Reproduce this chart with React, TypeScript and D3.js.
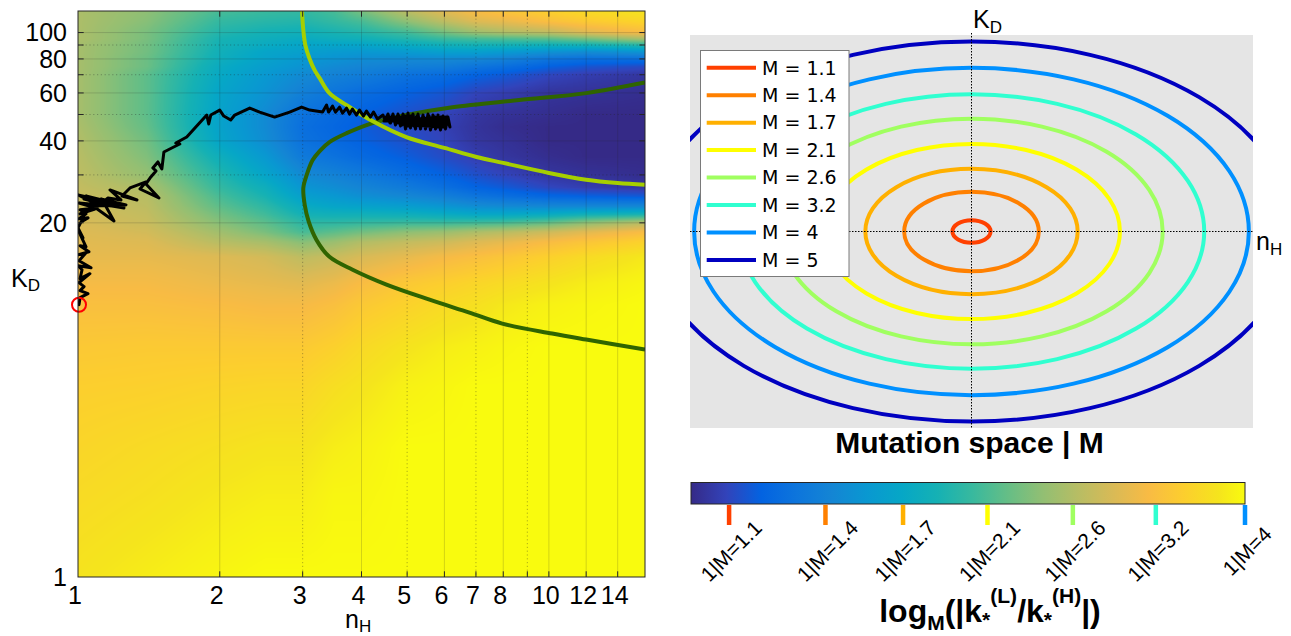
import React, { useMemo } from "react";
import * as d3 from "d3";

// ---------------- data ----------------
const nHTickLabels = [1, 2, 3, 4, 5, 6, 7, 8, 10, 12, 14];
const nHTickMarks = [2, 3, 4, 5, 6, 7, 8, 9, 10, 12, 14];
const nHGridMajor = [2, 4, 6, 8, 10, 12, 14];
const nHGridMinor = [3, 5, 7, 9];
const kdTickLabels = [1, 20, 40, 60, 80, 100];
const kdTickMarks = [20, 30, 40, 50, 60, 70, 80, 90, 100];
const kdGridMajor = [20, 40, 60, 80, 100];
const kdGridMinor = [30, 50, 70, 90];

// heat field (colour level 0..1 of log_M ratio) sampled on an nH x KD grid
const heatNH = [1, 1.4, 2, 2.5, 3, 3.5, 4, 5, 6, 7, 8, 10, 12, 16];
const heatKD = [120, 110, 100, 95, 90, 85, 80, 75, 70, 60, 50, 45, 40, 35, 30, 27, 25, 23, 21.5, 20, 18.5, 17, 15, 12, 10, 7, 5, 3, 2, 1];
const heatLevel = [
  [0.68, 0.63, 0.53, 0.51, 0.5, 0.53, 0.6, 0.71, 0.78, 0.83, 0.86, 0.895, 0.925, 0.95],
  [0.68, 0.62, 0.5, 0.48, 0.47, 0.5, 0.53, 0.63, 0.71, 0.77, 0.79, 0.84, 0.875, 0.91],
  [0.68, 0.6, 0.47, 0.44, 0.43, 0.45, 0.47, 0.52, 0.59, 0.65, 0.68, 0.71, 0.77, 0.83],
  [0.68, 0.6, 0.45, 0.42, 0.4, 0.42, 0.43, 0.47, 0.51, 0.53, 0.54, 0.56, 0.6, 0.68],
  [0.67, 0.59, 0.44, 0.4, 0.37, 0.37, 0.37, 0.4, 0.43, 0.44, 0.44, 0.43, 0.44, 0.48],
  [0.67, 0.59, 0.43, 0.37, 0.35, 0.33, 0.32, 0.33, 0.35, 0.35, 0.33, 0.3, 0.28, 0.31],
  [0.67, 0.58, 0.42, 0.36, 0.32, 0.3, 0.28, 0.27, 0.27, 0.26, 0.24, 0.19, 0.17, 0.17],
  [0.67, 0.58, 0.4, 0.34, 0.3, 0.27, 0.25, 0.23, 0.22, 0.19, 0.17, 0.125, 0.1, 0.08],
  [0.67, 0.56, 0.39, 0.32, 0.27, 0.24, 0.22, 0.18, 0.16, 0.13, 0.11, 0.07, 0.05, 0.03],
  [0.67, 0.56, 0.37, 0.3, 0.23, 0.19, 0.16, 0.125, 0.1, 0.065, 0.05, 0.025, 0.02, 0.01],
  [0.67, 0.56, 0.36, 0.27, 0.18, 0.15, 0.125, 0.09, 0.065, 0.03, 0.02, 0.01, 0, 0],
  [0.68, 0.57, 0.36, 0.27, 0.17, 0.14, 0.115, 0.08, 0.055, 0.025, 0.01, 0, 0, 0],
  [0.69, 0.59, 0.37, 0.28, 0.18, 0.15, 0.125, 0.09, 0.065, 0.03, 0.02, 0, 0, 0],
  [0.7, 0.61, 0.42, 0.32, 0.21, 0.18, 0.15, 0.115, 0.08, 0.05, 0.03, 0.01, 0, 0],
  [0.71, 0.64, 0.47, 0.37, 0.27, 0.24, 0.21, 0.16, 0.125, 0.09, 0.065, 0.03, 0.02, 0.01],
  [0.72, 0.68, 0.5, 0.42, 0.31, 0.28, 0.25, 0.21, 0.17, 0.13, 0.11, 0.07, 0.05, 0.03],
  [0.73, 0.7, 0.53, 0.45, 0.35, 0.32, 0.29, 0.26, 0.23, 0.19, 0.17, 0.14, 0.125, 0.11],
  [0.74, 0.71, 0.56, 0.49, 0.4, 0.37, 0.36, 0.34, 0.31, 0.28, 0.27, 0.26, 0.26, 0.26],
  [0.75, 0.72, 0.59, 0.52, 0.44, 0.43, 0.43, 0.42, 0.4, 0.38, 0.38, 0.4, 0.43, 0.45],
  [0.76, 0.73, 0.62, 0.56, 0.49, 0.49, 0.5, 0.51, 0.51, 0.52, 0.53, 0.57, 0.63, 0.7],
  [0.77, 0.75, 0.66, 0.6, 0.53, 0.56, 0.59, 0.63, 0.65, 0.68, 0.7, 0.74, 0.78, 0.83],
  [0.78, 0.77, 0.7, 0.67, 0.62, 0.65, 0.69, 0.72, 0.74, 0.77, 0.79, 0.83, 0.86, 0.9],
  [0.79, 0.79, 0.77, 0.75, 0.71, 0.73, 0.76, 0.79, 0.82, 0.84, 0.86, 0.895, 0.925, 0.96],
  [0.82, 0.82, 0.8, 0.79, 0.78, 0.8, 0.83, 0.87, 0.89, 0.91, 0.925, 0.95, 0.97, 0.99],
  [0.84, 0.84, 0.83, 0.82, 0.82, 0.84, 0.87, 0.9, 0.925, 0.94, 0.96, 0.98, 0.99, 1],
  [0.87, 0.875, 0.875, 0.875, 0.875, 0.895, 0.92, 0.95, 0.97, 0.98, 0.99, 1, 1, 1],
  [0.89, 0.895, 0.905, 0.91, 0.91, 0.935, 0.95, 0.98, 0.99, 1, 1, 1, 1, 1],
  [0.91, 0.925, 0.94, 0.95, 0.95, 0.97, 0.98, 1, 1, 1, 1, 1, 1, 1],
  [0.925, 0.94, 0.96, 0.97, 0.97, 0.99, 0.99, 1, 1, 1, 1, 1, 1, 1],
  [0.95, 0.97, 0.99, 1, 1, 1, 1, 1, 1, 1, 1, 1, 1, 1],
];

// evolutionary trajectory (nH, KD)
const trajNH = [
  1.005, 1.01, 1.05, 1.01, 1.03, 1.005, 1.06, 1.01, 1.02, 1.0, 1.066, 1.005, 1.04, 1.0, 1.055, 1.01, 1.04, 1.005, 1.025, 1.0, 1.015, 1.05, 1.005, 1.04, 1.01,
  1.0919, 1.0049, 1.1808, 1.0298, 1.2522, 1.0813, 1.0, 1.1413, 1.0399, 1.216, 1.1191, 1.2645, 1.0761, 1.1925, 1.1357, 1.0098, 1.0866, 1.158, 1.234, 1.1694, 1.3343, 1.24, 1.2895, 1.3943, 1.354, 1.4859, 1.3943,
  1.428, 1.464, 1.442, 1.478, 1.507, 1.522, 1.597, 1.645, 1.613, 1.702, 1.787, 1.877, 1.895, 1.914, 2.0, 2.04, 2.11, 2.152, 2.316, 2.431, 2.616, 2.815, 2.985, 3.104, 3.307, 3.372, 3.405, 3.472, 3.523, 3.593, 3.646, 3.718, 3.773, 3.828, 3.904, 3.961, 4.039, 4.099, 4.18, 4.242, 4.325,
  4.443, 4.498, 4.553, 4.609, 4.666, 4.723, 4.781, 4.84, 4.9, 4.96, 5.021, 5.083, 5.145, 5.209, 5.273, 5.338, 5.403, 5.47, 5.537, 5.605, 5.674, 5.744, 5.814, 5.886, 5.958, 6.031, 6.105, 6.165, 6.076, 6.136,
  6.076, 5.987, 5.9, 5.814, 5.73, 5.646, 5.564, 5.483, 5.403, 5.325, 5.247, 5.17, 5.095, 5.021, 4.948, 4.876, 4.805, 4.735, 4.666, 4.598, 4.531, 4.465,
  5.4, 6.14, 4.72, 6.1, 4.8, 6.05, 4.9, 6.12, 4.62, 6.0, 5.1, 6.08,
];
const trajKD = [
  10.01, 10.62, 10.99, 11.27, 11.66, 12.06, 13.01, 12.47, 13.45, 13.91, 13.68, 14.51, 15.53, 15.27, 15.66, 16.48, 16.33, 18.54, 17.62, 19.17, 20.17, 20.86, 20.69, 21.58, 22.32,
  22.68, 23.66, 23.07, 24.47, 22.68, 23.66, 25.32, 24.06, 25.1, 23.46, 24.47, 23.26, 23.07, 20.32, 23.66, 21.56, 22.49, 24.68, 24.27, 26.41, 24.27, 25.1, 26.86, 28.26, 26.63, 24.68, 27.79,
  29.49, 31.02, 31.81, 33.47, 31.55, 36.41, 37.98, 38.95, 39.28, 41.32, 45.36, 49.77, 46.13, 49.77, 51.91, 49.35, 47.71, 49.77, 52.79, 51.04, 48.93, 51.04, 53.24, 51.91, 51.04, 54.14, 51.04, 53.69, 51.04, 53.24, 50.61, 52.79, 50.18, 52.35, 49.77, 51.91, 49.35, 51.47, 48.93, 51.04, 48.11,
  49.8, 47.34, 50.22, 46.54, 50.22, 45.77, 50.22, 45.38, 50.22, 44.24, 50.65, 44.61, 50.22, 44.24, 50.22, 44.24, 49.8, 44.24, 50.22, 43.87, 49.8, 44.24, 49.8, 43.87, 49.38, 44.24, 48.96, 44.99, 47.74, 46.15,
  48.55, 45.38, 48.96, 44.99, 48.96, 44.99, 49.38, 44.99, 49.38, 44.99, 49.38, 45.38, 49.38, 45.38, 49.38, 45.77, 49.38, 46.15, 49.38, 46.54, 49.38, 47.34,
  47.74, 46.54, 47.74, 48.96, 46.54, 45.38, 48.55, 47.74, 48.96, 44.99, 45.77, 46.9,
];
const startNH = 1;
const startKD = 10;

// contour curves
const limeNH = [2.99, 3.01, 3.04, 3.1, 3.18, 3.26, 3.42, 3.72, 4.22, 4.98, 6.0, 7.02, 8.0, 10.0, 12.0, 14.0, 16.0];
const limeKD = [120, 101.9, 89.8, 80.5, 72.8, 68.0, 59.9, 54.1, 47.3, 41.3, 37.7, 34.9, 33.2, 30.5, 28.8, 28.0, 27.6];
const greenNH = [16, 12.0, 8.65, 6.24, 4.98, 4.22, 3.72, 3.42, 3.26, 3.15, 3.06, 3.01, 3.03, 3.09, 3.21, 3.42, 3.83, 4.52, 5.58, 6.78, 7.96, 10.16, 12.0, 16];
const greenKD = [65.5, 59.9, 56.5, 53.2, 49.8, 46.5, 42.7, 39.6, 36.7, 34.0, 30.0, 26.9, 23.3, 20.2, 17.3, 15.0, 13.45, 11.86, 10.44, 9.36, 8.53, 7.84, 7.45, 6.85];

// mutation space
const mutationM = [1.1, 1.4, 1.7, 2.1, 2.6, 3.2, 4, 5];
const mutationColors = ["#ff4000", "#ff8000", "#ffb000", "#ffff00", "#a0ff60", "#30ffd0", "#0090ff", "#0000c0"];
const colorbarM = [1.1, 1.4, 1.7, 2.1, 2.6, 3.2, 4];

// parula colormap anchors
const parulaHex = ["#352a87", "#3243ba", "#0363e1", "#0d75dc", "#1485d4", "#0998d1", "#06a7c6", "#15b1b4", "#38b99e", "#65be86", "#92bf73", "#b7bd64", "#d9ba56", "#f8bb44", "#fcce2e", "#f5e41d", "#f9fb0e"];
const parulaPos = [0, 4, 8, 12, 16, 20, 24, 28, 32, 36, 40, 44, 48, 52, 56, 60, 63].map((i) => i / 63);

const ARIAL = "'Liberation Sans', Arial, Helvetica, sans-serif";
const DEJAVU = "'DejaVu Sans', sans-serif";

const parula = d3
  .scaleLinear<string>()
  .domain(parulaPos)
  .range(parulaHex)
  .interpolate(d3.interpolateRgb)
  .clamp(true);

function buildHeatmap(x: any, y: any, x0: number, y0: number, w: number, h: number) {
  const c = document.createElement("canvas");
  c.width = w;
  c.height = h;
  const ctx = c.getContext("2d");
  if (!ctx) return "";
  const img = ctx.createImageData(w, h);
  const colPx = heatNH.map((v) => x(v));
  const rowPx = heatKD.map((v) => y(v));
  const lut = d3.range(512).map((i) => d3.rgb(parula(i / 511)));
  const seg = (arr: number[], p: number): [number, number] => {
    let i = 0;
    while (i < arr.length - 2 && p > arr[i + 1]) i++;
    const t = Math.max(0, Math.min(1, (p - arr[i]) / (arr[i + 1] - arr[i])));
    return [i, t];
  };
  const xs = d3.range(w).map((px) => seg(colPx, x0 + px + 0.5));
  for (let py = 0; py < h; py++) {
    const [j, ty] = seg(rowPx, y0 + py + 0.5);
    const r0 = heatLevel[j];
    const r1 = heatLevel[j + 1];
    for (let px = 0; px < w; px++) {
      const [i, tx] = xs[px];
      const v =
        (1 - ty) * ((1 - tx) * r0[i] + tx * r0[i + 1]) +
        ty * ((1 - tx) * r1[i] + tx * r1[i + 1]);
      const col = lut[Math.round(Math.max(0, Math.min(1, v)) * 511)];
      const k = (py * w + px) * 4;
      img.data[k] = col.r;
      img.data[k + 1] = col.g;
      img.data[k + 2] = col.b;
      img.data[k + 3] = 255;
    }
  }
  ctx.putImageData(img, 0, 0);
  return c.toDataURL();
}

export default function App() {
  const L = { left: 78, right: 645, top: 11, bottom: 577 };
  const x = d3.scaleLog().domain([1, 16]).range([L.left, L.right]);
  const y = d3.scaleLog().domain([1, 120]).range([L.bottom, L.top]);

  const heatURL = useMemo(
    () => buildHeatmap(x, y, L.left, L.top, L.right - L.left, L.bottom - L.top),
    []
  );

  const line = d3
    .line<[number, number]>()
    .x((d) => x(d[0]))
    .y((d) => y(d[1]));
  const smooth = d3
    .line<[number, number]>()
    .x((d) => x(d[0]))
    .y((d) => y(d[1]))
    .curve(d3.curveCatmullRom.alpha(0.5));

  const traj = trajNH.map((v, i) => [v, trajKD[i]] as [number, number]);
  const lime = limeNH.map((v, i) => [v, limeKD[i]] as [number, number]);
  const green = greenNH.map((v, i) => [v, greenKD[i]] as [number, number]);

  // right panel
  const R = { left: 690, right: 1253, top: 35, bottom: 428 };
  const cx = (R.left + R.right) / 2;
  const cy = (R.top + R.bottom) / 2;
  const rxScale = d3.scaleLog().domain([1, 5]).range([0, 322]);
  const ryScale = d3.scaleLog().domain([1, 5]).range([0, 190]);

  // colorbar
  const CB = { left: 691, right: 1245, top: 482.5, bottom: 504 };
  const cbX = d3.scaleLog().domain([1, 4]).range([CB.left, CB.right]);

  const legendRowY = d3.scaleLinear().domain([0, 7]).range([67.7, 260]);
  const tickLen = 5.7;

  return (
    <svg
      width={1291}
      height={636}
      style={{ position: "absolute", left: 0, top: 0, display: "block", background: "#fff" }}
      fontFamily={ARIAL}
    >
      <defs>
        <clipPath id="leftClip">
          <rect x={L.left} y={L.top} width={L.right - L.left} height={L.bottom - L.top} />
        </clipPath>
        <clipPath id="rightClip">
          <rect x={R.left} y={R.top} width={R.right - R.left} height={R.bottom - R.top} />
        </clipPath>
        <linearGradient id="cbGrad" x1="0" x2="1" y1="0" y2="0">
          {parulaHex.map((c, i) => (
            <stop key={i} offset={parulaPos[i]} stopColor={c} />
          ))}
        </linearGradient>
      </defs>

      {/* ---------- left panel ---------- */}
      <image
        href={heatURL}
        x={L.left}
        y={L.top}
        width={L.right - L.left}
        height={L.bottom - L.top}
        preserveAspectRatio="none"
      />
      <g clipPath="url(#leftClip)">
        {nHGridMajor.map((v) => (
          <line key={"gx" + v} x1={x(v)} x2={x(v)} y1={L.top} y2={L.bottom} stroke="#262626" strokeOpacity={0.18} />
        ))}
        {nHGridMinor.map((v) => (
          <line key={"gxm" + v} x1={x(v)} x2={x(v)} y1={L.top} y2={L.bottom} stroke="#262626" strokeOpacity={0.35} strokeDasharray="1.2,2.6" />
        ))}
        {kdGridMajor.map((v) => (
          <line key={"gy" + v} y1={y(v)} y2={y(v)} x1={L.left} x2={L.right} stroke="#262626" strokeOpacity={0.18} />
        ))}
        {kdGridMinor.map((v) => (
          <line key={"gym" + v} y1={y(v)} y2={y(v)} x1={L.left} x2={L.right} stroke="#262626" strokeOpacity={0.35} strokeDasharray="1.2,2.6" />
        ))}
        <path d={smooth(green) || ""} fill="none" stroke="#2f6400" strokeWidth={4} />
        <path d={smooth(lime) || ""} fill="none" stroke="#a6cf00" strokeWidth={4} />
        <path d={line(traj) || ""} fill="none" stroke="#000" strokeWidth={3} strokeLinejoin="round" strokeLinecap="round" />
      </g>
      <circle cx={x(startNH) + 1} cy={y(startKD)} r={7} fill="none" stroke="#ff0000" strokeWidth={2} />

      {/* axes box and ticks */}
      <rect x={L.left} y={L.top} width={L.right - L.left} height={L.bottom - L.top} fill="none" stroke="#262626" strokeWidth={1} />
      {nHTickMarks.map((v) => (
        <g key={"tx" + v} stroke="#262626">
          <line x1={x(v)} x2={x(v)} y1={L.bottom} y2={L.bottom - tickLen} />
          <line x1={x(v)} x2={x(v)} y1={L.top} y2={L.top + tickLen} />
        </g>
      ))}
      {kdTickMarks.map((v) => (
        <g key={"ty" + v} stroke="#262626">
          <line y1={y(v)} y2={y(v)} x1={L.left} x2={L.left + tickLen} />
          <line y1={y(v)} y2={y(v)} x1={L.right} x2={L.right - tickLen} />
        </g>
      ))}
      {nHTickLabels.map((v) => (
        <text key={"lx" + v} x={x(v) - 3} y={604} textAnchor="middle" fontSize={25} fill="#000">
          {v}
        </text>
      ))}
      {kdTickLabels.map((v) => (
        <text key={"ly" + v} x={67} y={y(v)} dy="0.35em" textAnchor="end" fontSize={25} fill="#000">
          {v}
        </text>
      ))}
      <text x={11} y={287} fontSize={25} fill="#000">
        K<tspan fontSize={17} dy={4}>D</tspan>
      </text>
      <text x={345} y={628} fontSize={25} fill="#000">
        n<tspan fontSize={17} dy={4}>H</tspan>
      </text>

      {/* ---------- right panel ---------- */}
      <rect x={R.left} y={R.top} width={R.right - R.left} height={R.bottom - R.top} fill="#e5e5e5" />
      <g clipPath="url(#rightClip)">
        {mutationM.map((m, i) => (
          <ellipse
            key={"el" + m}
            cx={cx}
            cy={cy}
            rx={rxScale(m)}
            ry={ryScale(m)}
            fill="none"
            stroke={mutationColors[i]}
            strokeWidth={4}
          />
        ))}
      </g>
      <line x1={cx} x2={cx} y1={33} y2={R.bottom} stroke="#000" strokeWidth={1} strokeDasharray="1.5,1.5" />
      <line x1={R.left} x2={R.right} y1={cy} y2={cy} stroke="#000" strokeWidth={1} strokeDasharray="1.5,1.5" />
      <text x={973} y={28} fontSize={25} fill="#000">
        K<tspan fontSize={17} dy={5}>D</tspan>
      </text>
      <text x={1256} y={250} fontSize={25} fill="#000">
        n<tspan fontSize={17} dy={5}>H</tspan>
      </text>

      {/* legend */}
      <rect x={700.5} y={50.5} width={148.5} height={226} fill="#fff" stroke="#7a7a7a" strokeWidth={1} />
      {mutationM.map((m, i) => (
        <g key={"lg" + m}>
          <line x1={706.7} x2={756} y1={legendRowY(i)} y2={legendRowY(i)} stroke={mutationColors[i]} strokeWidth={4} />
          <text x={762} y={legendRowY(i)} dy="0.36em" fontFamily={DEJAVU} fontSize={19} fill="#000">
            {"M = " + m}
          </text>
        </g>
      ))}

      <text x={969.5} y={453} textAnchor="middle" fontWeight="bold" fontSize={30} fill="#000">
        Mutation space | M
      </text>

      {/* colorbar */}
      <rect x={CB.left} y={CB.top} width={CB.right - CB.left} height={CB.bottom - CB.top} fill="url(#cbGrad)" stroke="#262626" strokeWidth={1} />
      {colorbarM.map((m) => {
        const i = mutationM.indexOf(m);
        return (
          <g key={"cb" + m}>
            <rect x={cbX(m) - 2.25} y={505} width={4.5} height={20} fill={mutationColors[i]} />
            <text
              transform={`translate(${cbX(m) + 2},551) rotate(-45)`}
              textAnchor="middle"
              dy="0.35em"
              fontSize={21}
              fill="#000"
            >
              {"1|M=" + m}
            </text>
          </g>
        );
      })}
      <text x={990} y={622} textAnchor="middle" fontWeight="bold" fontSize={32} fill="#000">
        log<tspan fontSize={21} dy={8}>M</tspan>
        <tspan dy={-8}>(|k</tspan>
        <tspan fontSize={21} dy={5}>*</tspan>
        <tspan fontSize={21} dy={-24}>(L)</tspan>
        <tspan dy={19}>/k</tspan>
        <tspan fontSize={21} dy={5}>*</tspan>
        <tspan fontSize={21} dy={-24}>(H)</tspan>
        <tspan dy={19}>|)</tspan>
      </text>
    </svg>
  );
}
